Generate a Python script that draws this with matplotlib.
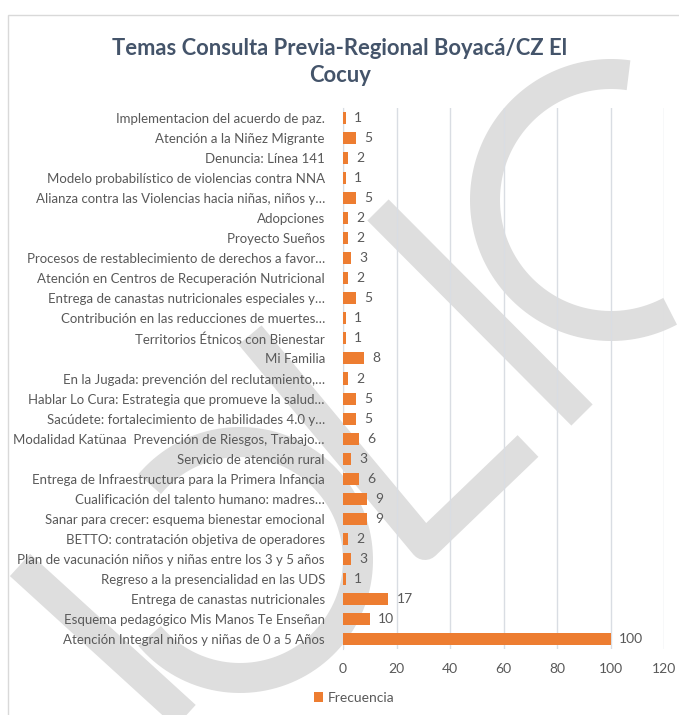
import matplotlib
matplotlib.use('Agg')
from matplotlib import pyplot as plt
from matplotlib.patches import Rectangle
import numpy as np

W, H = 679, 715

# top to bottom as shown in the chart
temas = [
    'Implementacion del acuerdo de paz.',
    'Atención a la Niñez Migrante',
    'Denuncia: Línea 141',
    'Modelo probabilístico de violencias contra NNA',
    'Alianza contra las Violencias hacia niñas, niños y…',
    'Adopciones',
    'Proyecto Sueños',
    'Procesos de restablecimiento de derechos a favor…',
    'Atención en Centros de Recuperación Nutricional',
    'Entrega de canastas nutricionales especiales y…',
    'Contribución en las reducciones de muertes…',
    'Territorios Étnicos con Bienestar',
    'Mi Familia',
    'En la Jugada: prevención del reclutamiento,…',
    'Hablar Lo Cura: Estrategia que promueve la salud…',
    'Sacúdete: fortalecimiento de habilidades 4.0 y…',
    'Modalidad Katünaa  Prevención de Riesgos, Trabajo…',
    'Servicio de atención rural',
    'Entrega de Infraestructura para la Primera Infancia',
    'Cualificación del talento humano: madres…',
    'Sanar para crecer: esquema bienestar emocional',
    'BETTO: contratación objetiva de operadores',
    'Plan de vacunación niños y niñas entre los 3 y 5 años',
    'Regreso a la presencialidad en las UDS',
    'Entrega de canastas nutricionales',
    'Esquema pedagógico Mis Manos Te Enseñan',
    'Atención Integral niños y niñas de 0 a 5 Años',
]
frecuencia = [1, 5, 2, 1, 5, 2, 2, 3, 2, 5, 1, 1, 8, 2, 5, 5, 6, 3, 6, 9, 9, 2, 3, 1, 17, 10, 100]
xticks = [0, 20, 40, 60, 80, 100, 120]

ORANGE = '#ED7D31'
TEXT = '#595959'
GRID = '#D9DDE3'
MARK = '#DEDEDE'

plt.rcParams['font.family'] = ['Lato', 'DejaVu Sans']


def px(x, y):
    # reference pixel (from top-left) -> figure fraction
    return x / W, 1 - y / H


def watermark(fig):
    lw = 30 * 72 / 100
    kw = dict(color=MARK, lw=lw, solid_capstyle='butt', transform=fig.transFigure, zorder=0)
    segs = [
        [(378, 210), (582, 415)],
        [(250, 335), (425, 545), (528, 446)],
        [(20, 565), (190, 720)],
    ]
    for seg in segs:
        xs, ys = zip(*[px(*p) for p in seg])
        fig.add_artist(plt.Line2D(xs, ys, **kw))
    arcs = [((611, 200), 126, 82, 298), ((240, 560), 118, -140, 140)]
    for (cx, cy), r, t1, t2 in arcs:
        t = np.radians(np.linspace(t1, t2, 120))
        xs, ys = zip(*[px(cx + r * np.cos(a), cy - r * np.sin(a)) for a in t])
        fig.add_artist(plt.Line2D(xs, ys, **kw))


fig = plt.figure(figsize=(W / 100, H / 100), dpi=100)
fig.patch.set_facecolor('white')
fig.add_artist(Rectangle(px(8, 716), 700, 701 / H, transform=fig.transFigure,
                         facecolor='none', edgecolor='#D9D9D9', lw=1, zorder=0))
watermark(fig)

l, b = px(343, 649)
r, t = px(664, 108)
ax = fig.add_axes([l, b, r - l, t - b])
ax.patch.set_alpha(0)

y = np.arange(len(temas))
bars = ax.barh(y, frecuencia, height=0.6, color=ORANGE, zorder=3, label='Frecuencia')
ax.bar_label(bars, padding=6, color=TEXT, fontsize=10)
ax.set_yticks(y, temas)
ax.set_ylim(len(temas) - 0.5, -0.5)
ax.set_xlim(0, 120)
ax.set_xticks(xticks)
ax.grid(axis='x', color=GRID, lw=1, zorder=2)
ax.tick_params(length=0, colors=TEXT, labelsize=10)
ax.tick_params(axis='y', pad=13, labelsize=9.5)
ax.tick_params(axis='x', pad=10)
for s in ['top', 'right', 'bottom']:
    ax.spines[s].set_visible(False)
ax.spines['left'].set_color(GRID)

fig.text(*px(340, 62), 'Temas Consulta Previa-Regional Boyacá/CZ El\nCocuy', ha='center', va='center',
         fontsize=15.8, fontweight='bold', color='#44546A', linespacing=1.4)

fig.legend(loc='center', bbox_to_anchor=px(354, 698), frameon=False, fontsize=10,
           labelcolor=TEXT, handlelength=0.7, handleheight=0.7, handletextpad=0.3)

fig.savefig('out.png', dpi=100)
